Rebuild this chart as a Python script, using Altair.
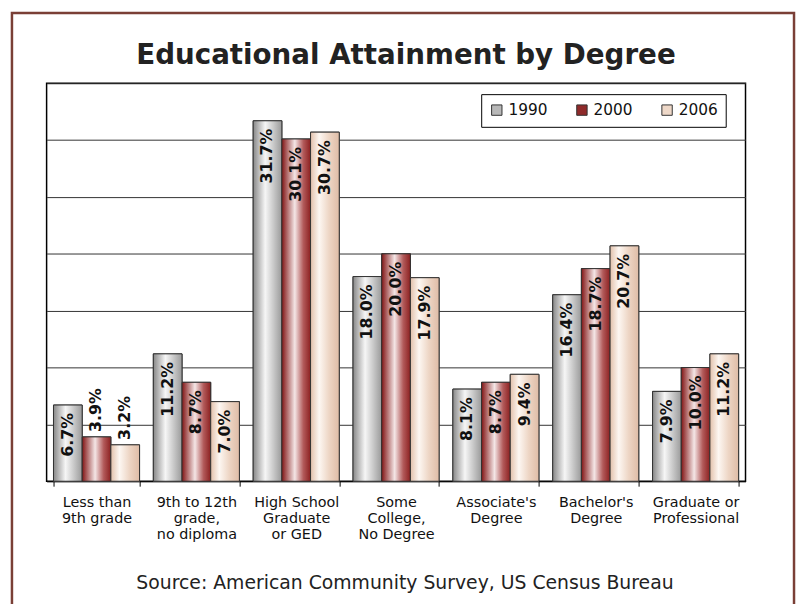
import altair as alt
import pandas as pd

# ---- data ----
categories = [
    "Less than|9th grade",
    "9th to 12th|grade,|no diploma",
    "High School|Graduate|or GED",
    "Some|College,|No Degree",
    "Associate's|Degree",
    "Bachelor's|Degree",
    "Graduate or|Professional",
]
years = ["1990", "2000", "2006"]
pct_1990 = [6.7, 11.2, 31.7, 18.0, 8.1, 16.4, 7.9]
pct_2000 = [3.9, 8.7, 30.1, 20.0, 8.7, 18.7, 10.0]
pct_2006 = [3.2, 7.0, 30.7, 17.9, 9.4, 20.7, 11.2]
y_ticks = [0, 5, 10, 15, 20, 25, 30, 35]

title_text = "Educational Attainment by Degree"
source_text = "Source: American Community Survey, US Census Bureau"

swatch_colors = ["#b8b8b8", "#8f2a2a", "#eed8c8"]
gradient_stops = {
    "1990": [("#888888", 0.0), ("#f6f6f6", 0.42), ("#cacaca", 0.7), ("#9a9a9a", 1.0)],
    "2000": [("#821515", 0.0), ("#f4e6e6", 0.45), ("#b25a5a", 0.75), ("#8c2020", 1.0)],
    "2006": [("#e2c1ab", 0.0), ("#fdf7f2", 0.3), ("#edd5c4", 0.65), ("#dfbca6", 1.0)],
}

rows = []
for yr, vals in zip(years, [pct_1990, pct_2000, pct_2006]):
    for cat, v in zip(categories, vals):
        rows.append({"category": cat, "year": yr, "value": v})
df = pd.DataFrame(rows)

FONT = "DejaVu Sans"

x_enc = alt.X(
    "category:N",
    sort=categories,
    scale=alt.Scale(paddingInner=0.138, paddingOuter=0.069),
    axis=alt.Axis(
        title=None,
        labelExpr="split(datum.label, '|')",
        labelAngle=0,
        tickBand="extent",
        domainColor="black",
        domainWidth=1,
        tickColor="black",
        tickSize=5,
        labelFont=FONT,
        labelFontSize=14.5,
        labelLineHeight=16,
        labelColor="#111111",
        labelPadding=10,
    ),
)
xo_enc = alt.XOffset("year:N", scale=alt.Scale(domain=years, paddingInner=0, paddingOuter=0))
y_enc = alt.Y(
    "value:Q",
    scale=alt.Scale(domain=[0, 35], nice=False),
    axis=alt.Axis(
        values=y_ticks, labels=False, ticks=False, domain=False, title=None,
        grid=True, gridColor="#333333", gridWidth=1,
    ),
)

base = alt.Chart(df)

border = alt.Chart(alt.Data(values=[{}])).mark_rect(
    fillOpacity=0, stroke="#7a3f36", strokeWidth=2.5
).encode(x=alt.value(-35), x2=alt.value(755), y=alt.value(-71), y2=alt.value(560))

shadow = alt.Chart(alt.Data(values=[{}])).mark_rect(color="black").encode(
    x=alt.value(443), x2=alt.value(686), y=alt.value(15), y2=alt.value(44)
)

legend_bars = base.mark_bar(stroke="#333333", strokeWidth=1).encode(
    x=x_enc, xOffset=xo_enc, y=y_enc,
    color=alt.Color(
        "year:N",
        scale=alt.Scale(domain=years, range=swatch_colors),
        legend=alt.Legend(
            title=None, orient="none", legendX=439, legendY=11,
            direction="horizontal", fillColor="white", strokeColor="black",
            padding=8, labelFont=FONT, labelFontSize=15.5, labelColor="#111111",
            symbolType="square", symbolSize=110, symbolStrokeColor="#333333",
            symbolStrokeWidth=1, columnPadding=27, labelOffset=4,
        ),
    ),
)

grad_layers = []
for yr in years:
    grad = alt.LinearGradient(
        gradient="linear",
        stops=[alt.GradientStop(color=c, offset=o) for c, o in gradient_stops[yr]],
        x1=0, x2=1, y1=0, y2=0,
    )
    grad_layers.append(
        base.transform_filter(alt.datum.year == yr)
        .mark_bar(fill=grad, stroke="#333333", strokeWidth=1)
        .encode(x=x_enc, xOffset=xo_enc, y=y_enc)
    )

labels_in = base.transform_filter("datum.value >= 5").transform_calculate(
    label="format(datum.value, '.1f') + '%'"
).mark_text(
    angle=270, align="right", baseline="middle", dx=-8,
    font=FONT, fontSize=16, fontWeight="bold", color="#111111",
).encode(x=x_enc, xOffset=xo_enc, y=y_enc, text="label:N")

labels_out = base.transform_filter("datum.value < 5").transform_calculate(
    label="format(datum.value, '.1f') + '%'"
).mark_text(
    angle=270, align="left", baseline="middle", dx=5,
    font=FONT, fontSize=16, fontWeight="bold", color="#111111",
).encode(x=x_enc, xOffset=xo_enc, y=y_enc, text="label:N")

title = alt.Chart(alt.Data(values=[{}])).mark_text(
    text=title_text, font=FONT, fontSize=28, fontWeight="bold",
    align="center", baseline="alphabetic", color="#222222",
).encode(x=alt.value(363), y=alt.value(-19))

source = alt.Chart(alt.Data(values=[{}])).mark_text(
    text=source_text, font=FONT, fontSize=19,
    align="center", baseline="alphabetic", color="#222222",
).encode(x=alt.value(362), y=alt.value(511))

chart = alt.layer(
    border, shadow, legend_bars, *grad_layers, labels_in, labels_out, title, source
).properties(
    width=706, height=402,
    autosize=alt.AutoSizeParams(type="none"),
    padding={"left": 39, "top": 73, "right": 51, "bottom": 121},
    background="white",
).configure_view(stroke="black", strokeWidth=1.5)

chart.save("out.html", embed_options={"renderer": "svg", "actions": False})
